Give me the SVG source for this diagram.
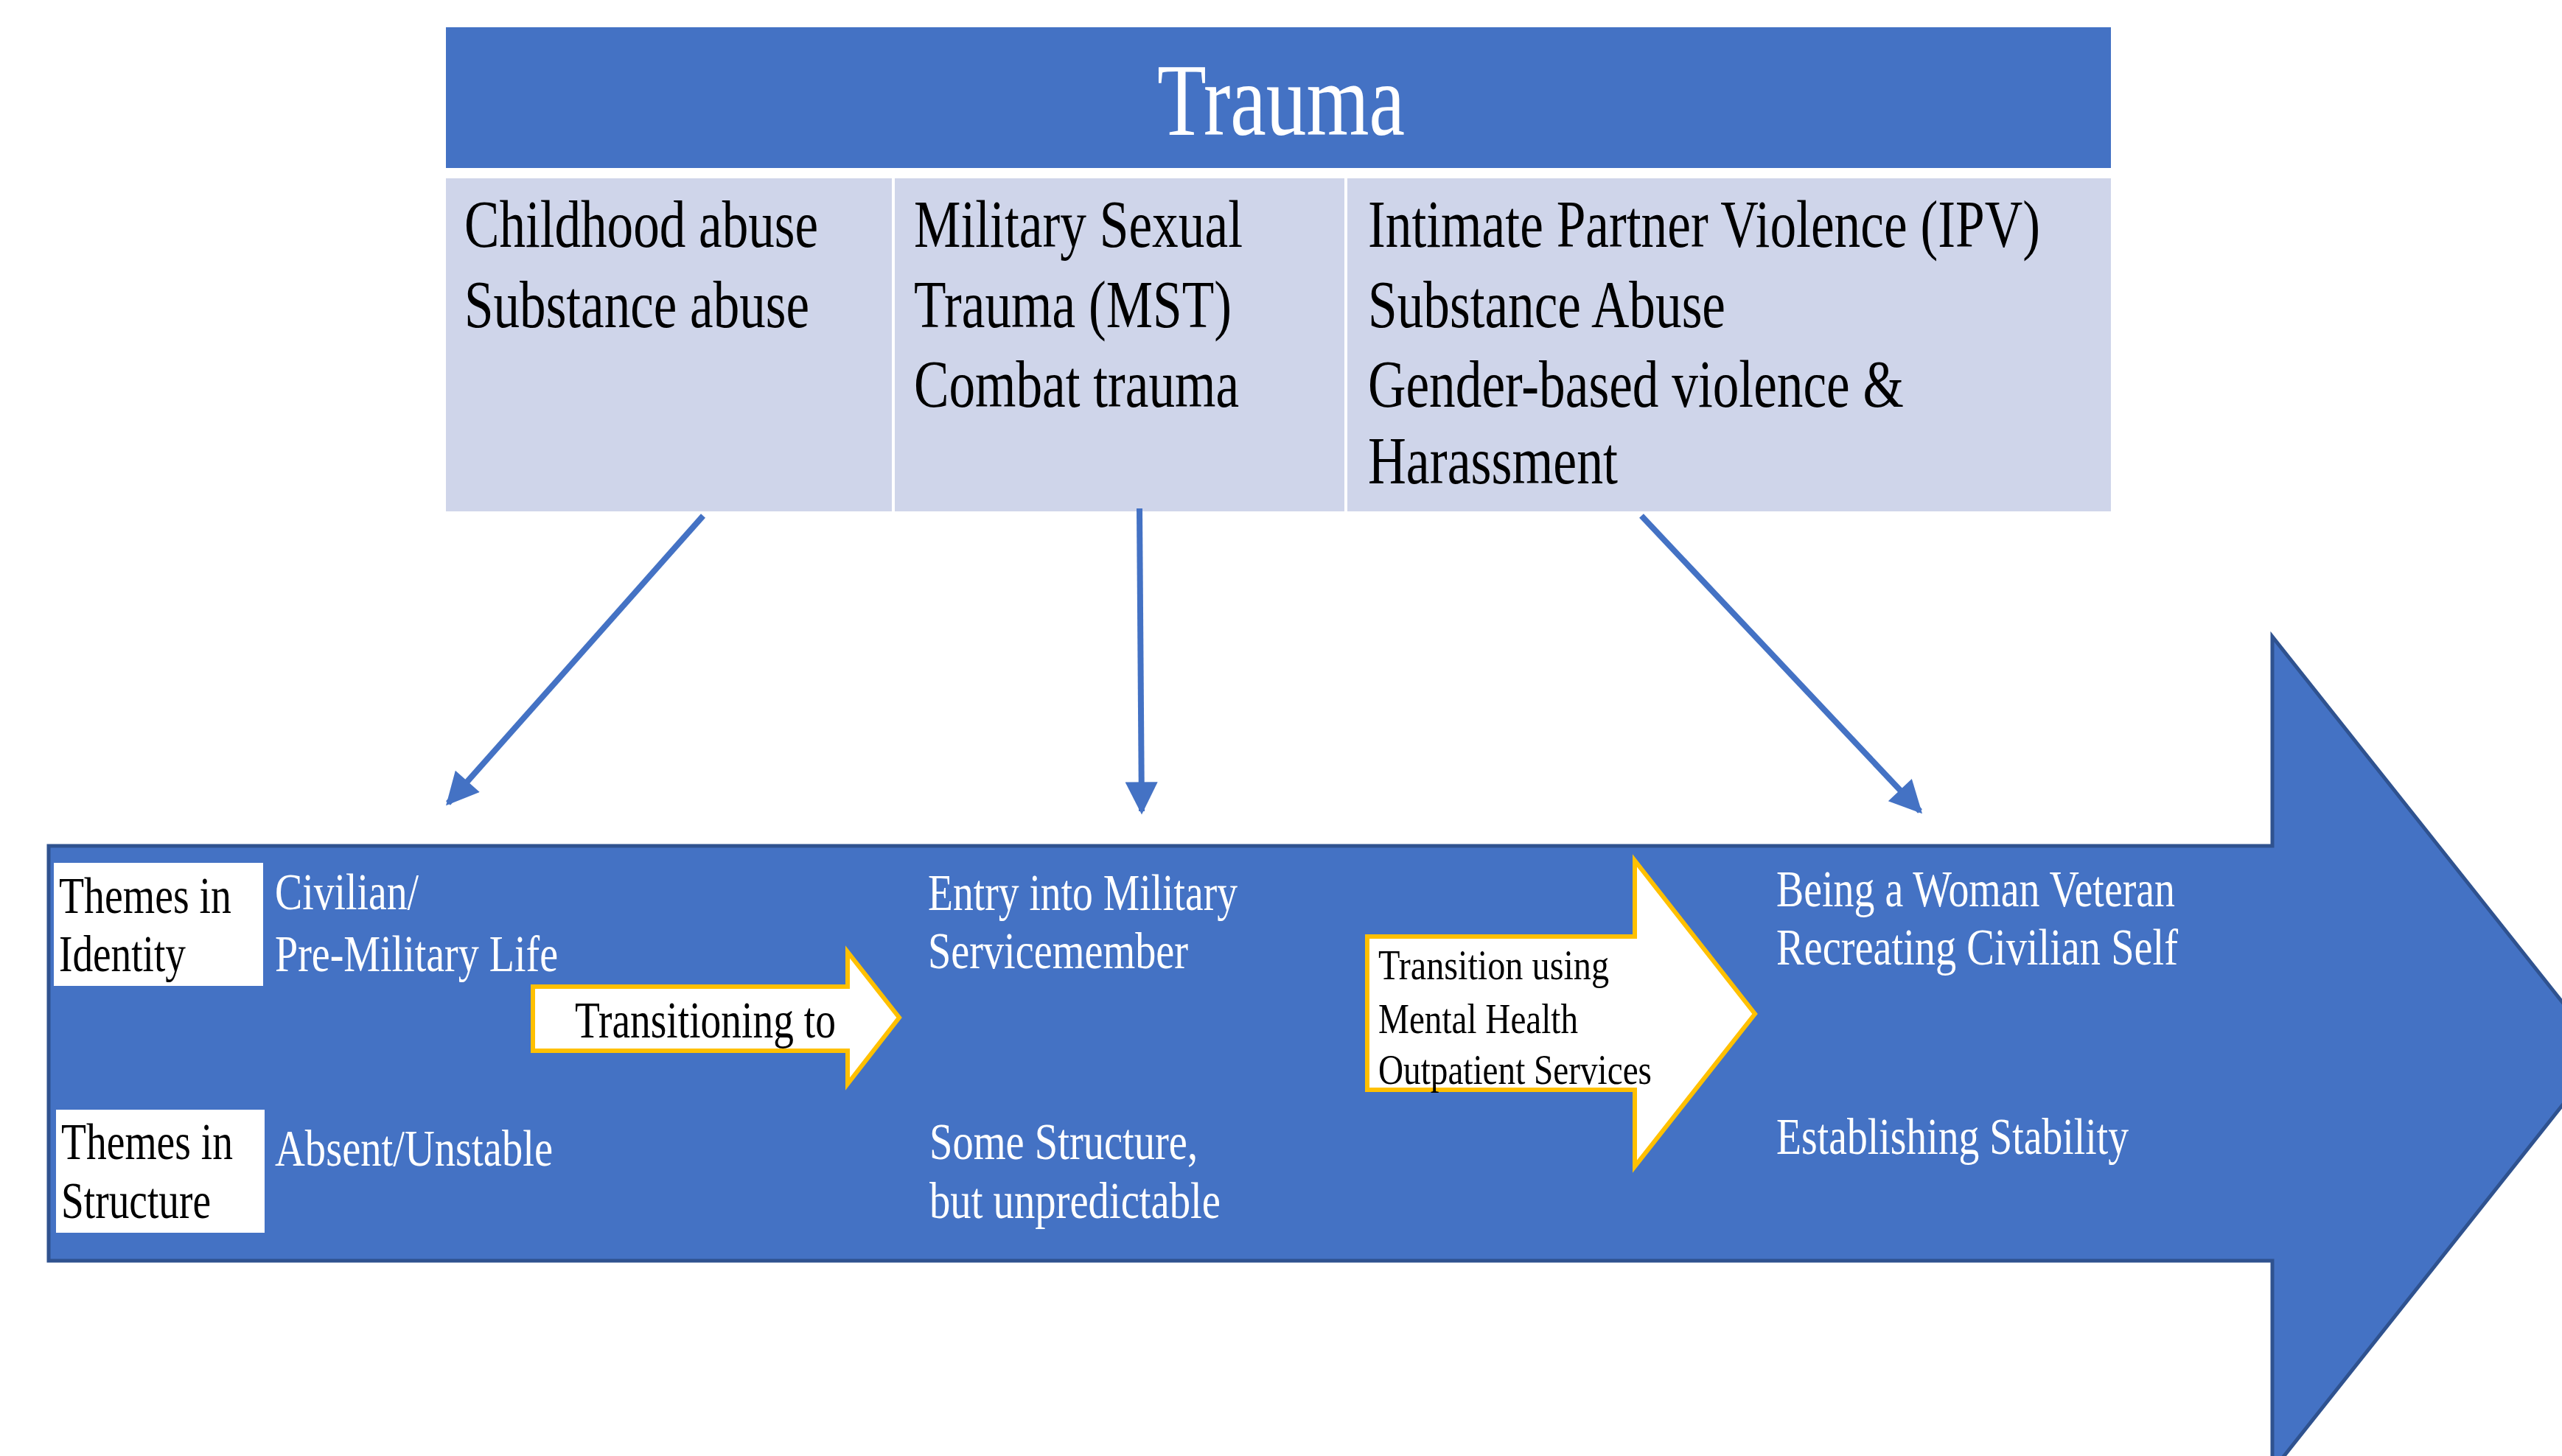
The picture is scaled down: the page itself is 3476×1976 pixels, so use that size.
<svg xmlns="http://www.w3.org/2000/svg" width="3476" height="1976" viewBox="0 0 3476 1976" font-family="'Liberation Serif','Times New Roman',serif">
<defs>
<style>
text{font-family:"Liberation Serif","Times New Roman",serif}
.title{fill:#ffffff;font-size:139px}
.cat{fill:#000000;font-size:92px}
.wt{fill:#ffffff;font-size:69px}
.bt{fill:#000000;font-size:69px}
.st{fill:#000000;font-size:56px}
.conn{stroke:#4472C4;stroke-width:8;fill:none}
.trans{fill:#ffffff;stroke:#FFC000;stroke-width:6}
</style>
<marker id="ah" viewBox="0 0 10 10" refX="9" refY="5" markerWidth="6" markerHeight="5.5" orient="auto" markerUnits="strokeWidth">
<path d="M0,0 L10,5 L0,10 Z" fill="#4472C4"/>
</marker>
</defs>
<rect width="3476" height="1976" fill="#ffffff"/>

<g id="trauma-title">
<rect x="605" y="37" width="2259" height="191" fill="#4472C4"/>
<text class="title" x="1570" y="183" textLength="336" lengthAdjust="spacingAndGlyphs">Trauma</text>
</g>

<g id="col-civilian">
<rect x="605" y="242" width="605" height="452" fill="#CFD5EA"/>
<text class="cat" x="630" y="335" textLength="480" lengthAdjust="spacingAndGlyphs">Childhood abuse</text>
<text class="cat" x="630" y="444" textLength="468" lengthAdjust="spacingAndGlyphs">Substance abuse</text>
</g>

<g id="col-military">
<rect x="1214" y="242" width="610" height="452" fill="#CFD5EA"/>
<text class="cat" x="1240" y="335" textLength="446" lengthAdjust="spacingAndGlyphs">Military Sexual</text>
<text class="cat" x="1240" y="444" textLength="431" lengthAdjust="spacingAndGlyphs">Trauma (MST)</text>
<text class="cat" x="1240" y="552" textLength="441" lengthAdjust="spacingAndGlyphs">Combat trauma</text>
</g>

<g id="col-veteran">
<rect x="1828" y="242" width="1036" height="452" fill="#CFD5EA"/>
<text class="cat" x="1856" y="335" textLength="912" lengthAdjust="spacingAndGlyphs">Intimate Partner Violence (IPV)</text>
<text class="cat" x="1856" y="444" textLength="485" lengthAdjust="spacingAndGlyphs">Substance Abuse</text>
<text class="cat" x="1856" y="552" textLength="727" lengthAdjust="spacingAndGlyphs">Gender-based violence &amp;</text>
<text class="cat" x="1856" y="656" textLength="339" lengthAdjust="spacingAndGlyphs">Harassment</text>
</g>

<g id="timeline-arrow">
<path d="M66,1148 L3083,1148 L3083,864 L3532,1430 L3083,1996 L3083,1711 L66,1711 Z" fill="#4472C4" stroke="#2F528F" stroke-width="5"/>
</g>

<g id="label-identity">
<rect x="73" y="1171" width="284" height="167" fill="#ffffff"/>
<text class="bt" x="80" y="1239" textLength="234" lengthAdjust="spacingAndGlyphs">Themes in</text>
<text class="bt" x="80" y="1318" textLength="172" lengthAdjust="spacingAndGlyphs">Identity</text>
</g>

<g id="label-structure">
<rect x="76" y="1506" width="283" height="167" fill="#ffffff"/>
<text class="bt" x="83" y="1573" textLength="233" lengthAdjust="spacingAndGlyphs">Themes in</text>
<text class="bt" x="83" y="1653" textLength="203" lengthAdjust="spacingAndGlyphs">Structure</text>
</g>

<g id="stage-civilian">
<text class="wt" x="373" y="1234" textLength="195" lengthAdjust="spacingAndGlyphs">Civilian/</text>
<text class="wt" x="373" y="1318" textLength="384" lengthAdjust="spacingAndGlyphs">Pre-Military Life</text>
<text class="wt" x="373" y="1582" textLength="377" lengthAdjust="spacingAndGlyphs">Absent/Unstable</text>
</g>

<g id="stage-military">
<text class="wt" x="1259" y="1235" textLength="420" lengthAdjust="spacingAndGlyphs">Entry into Military</text>
<text class="wt" x="1259" y="1314" textLength="353" lengthAdjust="spacingAndGlyphs">Servicemember</text>
<text class="wt" x="1261" y="1573" textLength="364" lengthAdjust="spacingAndGlyphs">Some Structure,</text>
<text class="wt" x="1261" y="1653" textLength="395" lengthAdjust="spacingAndGlyphs">but unpredictable</text>
</g>

<g id="stage-veteran">
<text class="wt" x="2410" y="1230" textLength="541" lengthAdjust="spacingAndGlyphs">Being a Woman Veteran</text>
<text class="wt" x="2410" y="1309" textLength="545" lengthAdjust="spacingAndGlyphs">Recreating Civilian Self</text>
<text class="wt" x="2410" y="1566" textLength="478" lengthAdjust="spacingAndGlyphs">Establishing Stability</text>
</g>

<g id="transition-1">
<path class="trans" d="M723,1339 L1150,1339 L1150,1292 L1220,1381 L1150,1471 L1150,1426 L723,1426 Z"/>
<text class="bt" x="780" y="1408" textLength="354" lengthAdjust="spacingAndGlyphs">Transitioning to</text>
</g>

<g id="transition-2">
<path class="trans" d="M1855,1271 L2218,1271 L2218,1168 L2381,1376 L2218,1583 L2218,1479 L1855,1479 Z"/>
<text class="st" x="1870" y="1329" textLength="313" lengthAdjust="spacingAndGlyphs">Transition using</text>
<text class="st" x="1870" y="1402" textLength="271" lengthAdjust="spacingAndGlyphs">Mental Health</text>
<text class="st" x="1870" y="1471" textLength="371" lengthAdjust="spacingAndGlyphs">Outpatient Services</text>
</g>

<g id="connectors">
<line class="conn" x1="954" y1="700" x2="608" y2="1090" marker-end="url(#ah)"/>
<line class="conn" x1="1546" y1="690" x2="1549" y2="1101" marker-end="url(#ah)"/>
<line class="conn" x1="2227" y1="700" x2="2605" y2="1101" marker-end="url(#ah)"/>
</g>
</svg>
